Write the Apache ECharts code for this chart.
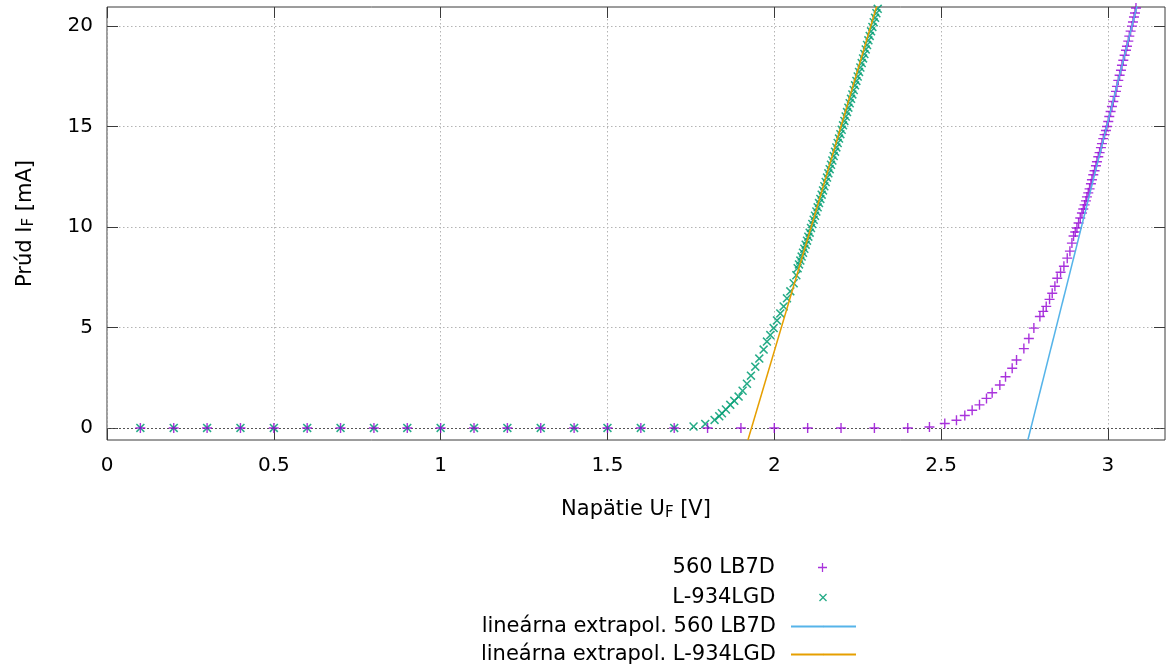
<!DOCTYPE html>
<html>
<head>
<meta charset="utf-8">
<title>VA charakteristika LED</title>
<script src="https://cdn.jsdelivr.net/npm/echarts@6/dist/echarts.min.js"></script>
<style>
  html, body { margin: 0; padding: 0; background: #fff; }
  #chart { width: 1168px; height: 666px; }
</style>
</head>
<body>
<div id="chart"></div>
<script>
// 560 LB7D - napätie [V]
var lb7dU = [
  0.1, 0.2, 0.3, 0.4, 0.5, 0.6, 0.7, 0.8, 0.9, 1.0, 1.1, 1.2, 1.3, 1.4, 1.5, 1.6, 1.7, 1.8, 1.9, 2.0,
  2.1, 2.2, 2.3, 2.4, 2.465, 2.511, 2.546, 2.571, 2.593, 2.615, 2.636, 2.653, 2.676, 2.693, 2.713,
  2.726, 2.748, 2.763, 2.778, 2.796, 2.806, 2.815, 2.825, 2.833, 2.841, 2.848, 2.858, 2.868, 2.878,
  2.886, 2.892, 2.897, 2.902, 2.907, 2.912, 2.917, 2.922, 2.926, 2.930, 2.934, 2.937, 2.941, 2.945,
  2.949, 2.952, 2.956, 2.960, 2.964, 2.967, 2.971, 2.975, 2.979, 2.982, 2.986, 2.990, 2.994, 2.997,
  3.001, 3.004, 3.008, 3.012, 3.016, 3.020, 3.024, 3.027, 3.031, 3.035, 3.039, 3.042, 3.046, 3.050,
  3.054, 3.057, 3.061, 3.064, 3.068, 3.072, 3.075, 3.078, 3.081, 3.084
]
// 560 LB7D - prúd [mA]
var lb7dI = [
  0, 0, 0, 0, 0, 0, 0, 0, 0, 0, 0, 0, 0, 0, 0, 0, 0, 0, 0, 0,
  0, 0, 0, 0, 0.05, 0.22, 0.38, 0.62, 0.88, 1.15, 1.47, 1.75, 2.14, 2.55, 2.97,
  3.38, 3.95, 4.45, 4.97, 5.55, 5.80, 6.05, 6.40, 6.70, 7.05, 7.45, 7.75, 8.05, 8.45,
  8.80, 9.20, 9.55, 9.75, 9.95, 10.20, 10.45, 10.70, 10.90, 11.10, 11.30, 11.50, 11.70, 11.90,
  12.15, 12.35, 12.60, 12.80, 13.05, 13.25, 13.50, 13.70, 13.95, 14.15, 14.40, 14.60, 14.80, 15.00,
  15.25, 15.50, 15.75, 16.00, 16.25, 16.50, 16.75, 17.00, 17.30, 17.55, 17.80, 18.05, 18.30, 18.55,
  18.80, 19.00, 19.25, 19.50, 19.75, 20.00, 20.20, 20.45, 20.65, 20.90
]
// L-934LGD - napätie [V]
var lgdU = [
  0.1, 0.2, 0.3, 0.4, 0.5, 0.6, 0.7, 0.8, 0.9, 1.0, 1.1, 1.2, 1.3, 1.4, 1.5, 1.6, 1.7,
  1.758, 1.793, 1.821, 1.835, 1.843, 1.855, 1.868, 1.880, 1.893, 1.905, 1.918, 1.930, 1.943,
  1.955, 1.968, 1.978, 1.988, 1.998, 2.008, 2.018, 2.028, 2.038, 2.048, 2.058, 2.066,
  2.070, 2.074, 2.078, 2.082, 2.086, 2.090, 2.094, 2.098, 2.102, 2.106, 2.110, 2.114, 2.118,
  2.122, 2.126, 2.130, 2.134, 2.138, 2.142, 2.146, 2.150, 2.154, 2.158, 2.162, 2.166, 2.170,
  2.174, 2.178, 2.182, 2.186, 2.190, 2.194, 2.198, 2.202, 2.206, 2.210, 2.214, 2.218, 2.222,
  2.226, 2.230, 2.234, 2.238, 2.242, 2.246, 2.250, 2.254, 2.258, 2.262, 2.266, 2.270, 2.274,
  2.278, 2.282, 2.286, 2.290, 2.294, 2.298, 2.302, 2.306, 2.310
]
// L-934LGD - prúd [mA]
var lgdI = [
  0, 0, 0, 0, 0, 0, 0, 0, 0, 0, 0, 0, 0, 0, 0, 0, 0,
  0.07, 0.20, 0.40, 0.58, 0.73, 0.92, 1.15, 1.35, 1.56, 1.85, 2.20, 2.60, 3.05,
  3.45, 3.90, 4.30, 4.62, 4.97, 5.35, 5.70, 6.05, 6.45, 6.80, 7.20, 7.60,
  7.95, 8.14, 8.33, 8.53, 8.72, 8.92, 9.12, 9.32, 9.52, 9.72, 9.95, 10.15, 10.36,
  10.56, 10.77, 10.98, 11.19, 11.40, 11.61, 11.82, 12.03, 12.24, 12.46, 12.67, 12.88, 13.10,
  13.31, 13.53, 13.75, 13.96, 14.18, 14.40, 14.62, 14.84, 15.06, 15.28, 15.50, 15.72, 15.94,
  16.16, 16.38, 16.60, 16.82, 17.05, 17.27, 17.49, 17.72, 17.94, 18.16, 18.39, 18.61, 18.84,
  19.06, 19.29, 19.51, 19.74, 19.96, 20.19, 20.41, 20.64, 20.86
]
// lineárna extrapolácia - krajné body priamok [U, I]
var fitLB7D = [[2.760, -0.6], [3.087, 21.0]]
var fitLGD = [[1.921, -0.6], [2.307, 21.0]]

var xTicks = [0, 0.5, 1, 1.5, 2, 2.5, 3]
var yTicks = [0, 5, 10, 15, 20]
var legendNames = ['560 LB7D', 'L-934LGD', 'lineárna extrapol. 560 LB7D', 'lineárna extrapol. L-934LGD']

var FONT = 'DejaVu Sans'
var plusPath = 'path://M-0.14,-1 L0.14,-1 L0.14,-0.14 L1,-0.14 L1,0.14 L0.14,0.14 L0.14,1 L-0.14,1 L-0.14,0.14 L-1,0.14 L-1,-0.14 L-0.14,-0.14 Z'
var crossPath = 'path://M-1,-0.76 L-0.76,-1 L0,-0.24 L0.76,-1 L1,-0.76 L0.24,0 L1,0.76 L0.76,1 L0,0.24 L-0.76,1 L-1,0.76 L-0.24,0 Z'

function pairs(xs, ys) {
  return xs.map(function (x, i) { return [x, ys[i]] })
}

var chart = echarts.init(document.getElementById('chart'))

var subRich = {
  s: { fontSize: 15, fontFamily: FONT, color: '#000', padding: [8, 0, 0, 0] }
}
var tickStyle = { color: '#3a3a3a', width: 1 }
var gridLine = { show: true, lineStyle: { color: '#b4b4b4', type: [1.5, 2.5], width: 1 } }

function legendItem(name, right, top, h, color) {
  return {
    data: [name],
    right: right,
    top: top,
    orient: 'vertical',
    align: 'right',
    itemWidth: 65,
    itemHeight: h,
    selectedMode: false,
    itemStyle: { color: color },
    textStyle: { fontFamily: FONT, fontSize: 21, color: '#000', padding: [0, 10, 0, 0] }
  }
}

// zrkadlové osi hore a vpravo - len značky smerom dovnútra
function mirrorAxis(pos, min, max, ticks) {
  return {
    type: 'value', position: pos, min: min, max: max,
    axisLine: { show: false, onZero: false },
    axisTick: { show: true, inside: true, length: 11, lineStyle: tickStyle, customValues: ticks },
    axisLabel: { show: false, customValues: ticks },
    splitLine: { show: false }
  }
}

var option = {
  animation: false,
  backgroundColor: '#fff',
  grid: {
    left: 107, right: 3, top: 7, bottom: 226,
    show: true, borderColor: '#3a3a3a', borderWidth: 1
  },
  legend: [
    legendItem(legendNames[0], 336, 552, 9, '#9400d3'),
    legendItem(legendNames[1], 336, 582, 8, '#009e73'),
    legendItem(legendNames[2], 306, 611, 2, '#56b4e9'),
    legendItem(legendNames[3], 306, 639, 2, '#e69f00')
  ],
  xAxis: [{
    type: 'value', min: 0, max: 3.171,
    name: 'Napätie U{s|F} [V]', nameLocation: 'middle', nameGap: 58,
    nameTextStyle: { fontFamily: FONT, fontSize: 21, color: '#000', rich: subRich },
    axisLine: { show: false, onZero: false },
    axisTick: { show: true, inside: true, length: 11, lineStyle: tickStyle, customValues: xTicks },
    axisLabel: { fontFamily: FONT, fontSize: 20, color: '#000', margin: 16, customValues: xTicks },
    splitLine: gridLine
  }, mirrorAxis('top', 0, 3.171, xTicks)],
  yAxis: [{
    type: 'value', min: -0.6, max: 20.95,
    name: 'Prúd I{s|F} [mA]', nameLocation: 'middle', nameGap: 70,
    nameTextStyle: { fontFamily: FONT, fontSize: 21, color: '#000', rich: subRich },
    axisLine: { show: false, onZero: false },
    axisTick: { show: true, inside: true, length: 11, lineStyle: tickStyle, customValues: yTicks },
    axisLabel: { fontFamily: FONT, fontSize: 20, color: '#000', margin: 14, customValues: yTicks },
    splitLine: gridLine
  }, mirrorAxis('right', -0.6, 20.95, yTicks)],
  series: [
    {
      name: legendNames[0],
      type: 'scatter',
      data: pairs(lb7dU, lb7dI),
      symbol: plusPath,
      symbolSize: 10,
      itemStyle: { color: '#9400d3' },
      clip: true,
      z: 3,
      markLine: {
        silent: true,
        symbol: 'none',
        label: { show: false },
        lineStyle: { color: '#555', type: [2, 2], width: 1 },
        data: [{ yAxis: 0 }],
        z: 1
      }
    },
    {
      name: legendNames[1],
      type: 'scatter',
      data: pairs(lgdU, lgdI),
      symbol: crossPath,
      symbolSize: 9,
      itemStyle: { color: '#009e73', opacity: 0.85 },
      clip: true,
      z: 2
    },
    {
      name: legendNames[2],
      type: 'line',
      xAxisIndex: 1,
      yAxisIndex: 1,
      data: fitLB7D,
      showSymbol: false,
      symbol: 'none',
      lineStyle: { color: '#56b4e9', width: 1.5 },
      itemStyle: { color: '#56b4e9' },
      clip: true,
      z: 4
    },
    {
      name: legendNames[3],
      type: 'line',
      xAxisIndex: 1,
      yAxisIndex: 1,
      data: fitLGD,
      showSymbol: false,
      symbol: 'none',
      lineStyle: { color: '#e69f00', width: 1.5 },
      itemStyle: { color: '#e69f00' },
      clip: true,
      z: 4
    }
  ]
}

chart.setOption(option)
window.addEventListener('resize', function () { chart.resize() })
</script>
</body>
</html>
